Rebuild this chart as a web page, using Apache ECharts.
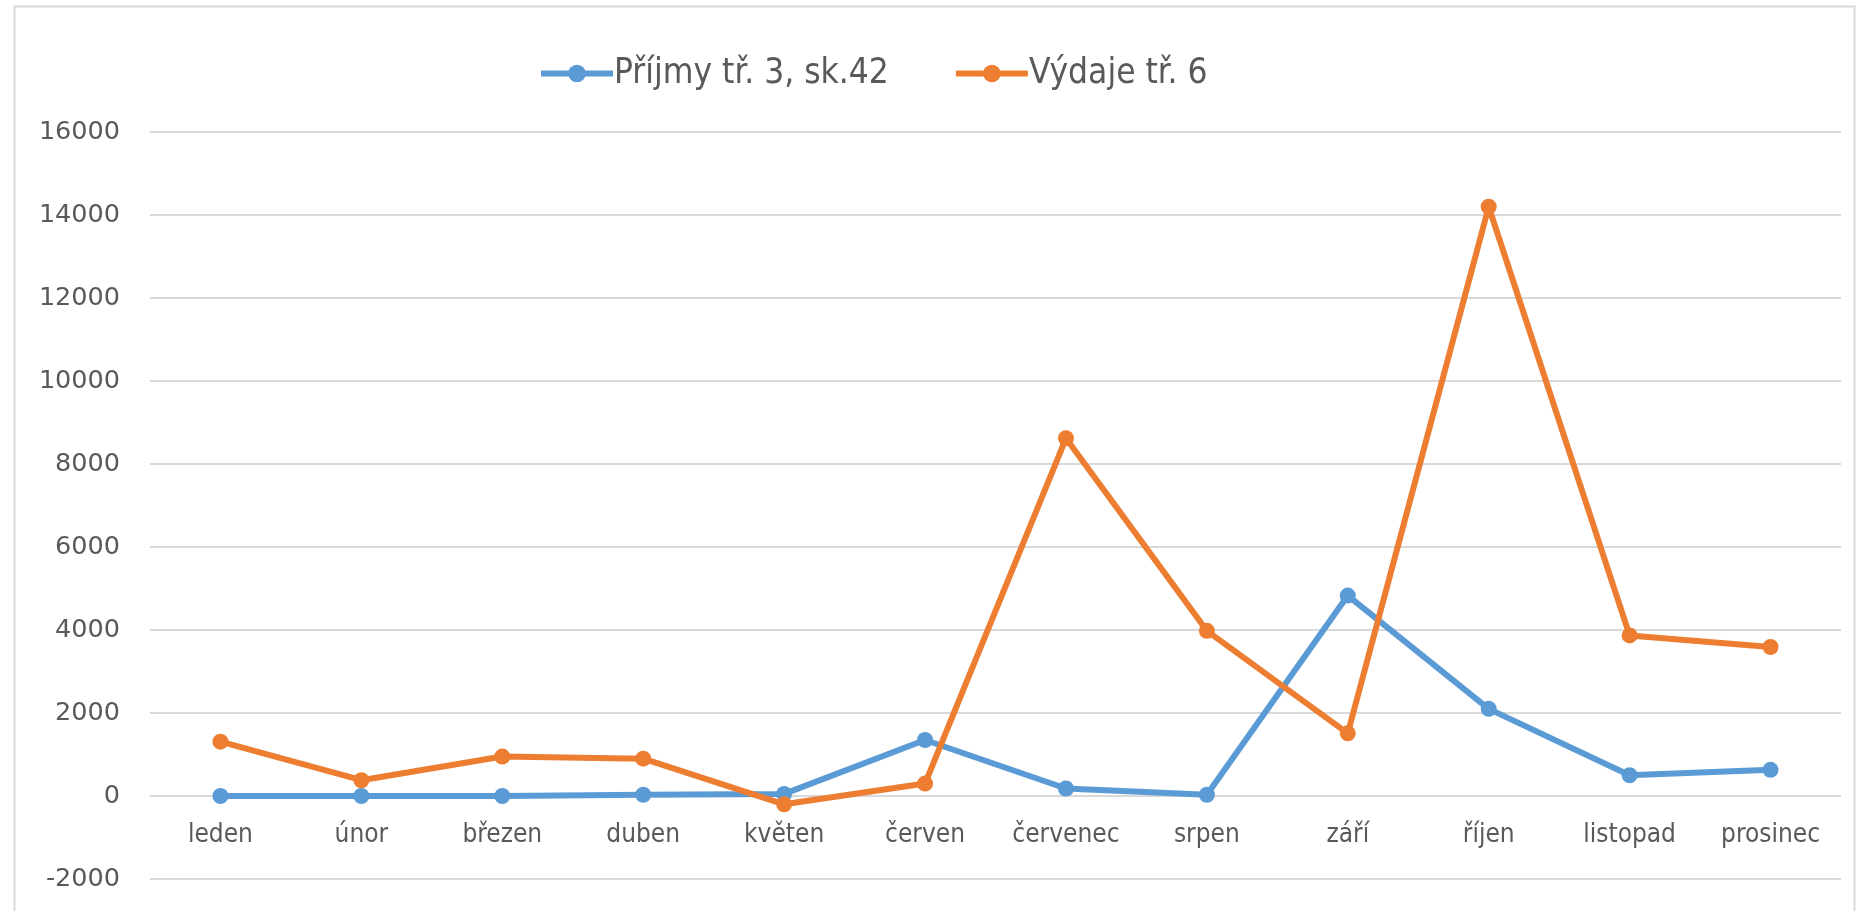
<!DOCTYPE html>
<html lang="cs">
<head>
    <meta charset="UTF-8">
    <script src="https://cdn.jsdelivr.net/npm/echarts@6/dist/echarts.min.js"></script>
    <style>
        html, body {margin:0; padding:0; background:#fff;}
        #chart {width:1863px; height:911px;}
    </style>
    <title>Příjmy a výdaje</title>
</head>
<body>
    <div id="chart"></div>
    <script>
        // data
        const months = ['leden', 'únor', 'březen', 'duben', 'květen', 'červen',
            'červenec', 'srpen', 'září', 'říjen', 'listopad', 'prosinec'];
        const prijmy = [0, 0, 0, 30, 50, 1350, 180, 30, 4830, 2100, 500, 630];
        const vydaje = [1310, 380, 950, 900, -200, 300, 8620, 3980, 1510, 14200, 3870, 3590];
        const seriesNames = ['Příjmy tř. 3, sk.42', 'Výdaje tř. 6'];
        const colors = ['#5B9BD5', '#ED7D31'];

        const narrow = '"Liberation Sans Narrow", "DejaVu Sans Condensed", sans-serif';

        let chart = echarts.init(document.getElementById('chart'));

        function lineSeries(name, data, color) {
            return {
                name: name,
                type: 'line',
                data: data,
                symbol: 'circle',
                symbolSize: 16,
                itemStyle: {color: color},
                lineStyle: {color: color, width: 6},
                emphasis: {disabled: true}
            };
        }

        chart.setOption({
            animation: false,
            color: colors,
            graphic: [{
                type: 'rect',
                left: 12, top: 4,
                shape: {width: 1840, height: 960},
                style: {fill: 'none', stroke: '#d9d9d9', lineWidth: 2},
                silent: true
            }],
            legend: {
                left: 533,
                top: 51,
                itemWidth: 72,
                itemHeight: 22,
                itemGap: 64,
                lineStyle: {width: 6},
                textStyle: {fontFamily: narrow, fontSize: 35, color: '#595959', padding: [0, 0, 0, -4]}
            },
            grid: {left: 150, right: 22, top: 132, bottom: 32},
            xAxis: {
                type: 'category',
                data: months,
                boundaryGap: true,
                offset: -83,
                axisLine: {show: false},
                axisTick: {show: false},
                axisLabel: {fontFamily: narrow, fontSize: 26, color: '#595959', margin: 26, interval: 0}
            },
            yAxis: {
                type: 'value',
                min: -2000,
                max: 16000,
                interval: 2000,
                axisLine: {show: false},
                axisTick: {show: false},
                splitLine: {lineStyle: {color: '#d9d9d9', width: 2}},
                axisLabel: {
                    fontFamily: '"DejaVu Sans", sans-serif', fontSize: 25.5, color: '#595959', margin: 30,
                    formatter: v => String(v)
                }
            },
            series: [
                lineSeries(seriesNames[0], prijmy, colors[0]),
                lineSeries(seriesNames[1], vydaje, colors[1])
            ]
        });
    </script>
</body>
</html>
